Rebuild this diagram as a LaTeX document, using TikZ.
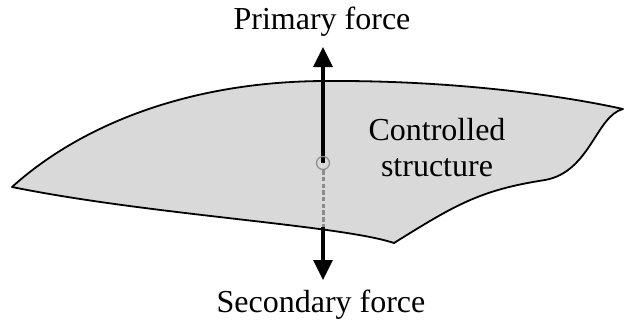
\documentclass[tikz,border=0pt]{standalone}
\usepackage{fontspec}
\setmainfont{Liberation Serif}
\usetikzlibrary{arrows.meta}
\definecolor{structfill}{HTML}{D9D9D9}
\definecolor{pingray}{HTML}{8C8C8C}

\begin{document}
\begin{tikzpicture}[x=1pt, y=-1pt, line join=round,
  font=\fontsize{32}{36}\selectfont, every node/.style={inner sep=0pt},
  force/.style={line width=3.2pt, -{Triangle[length=20pt,width=19pt]}}]
  \path[use as bounding box] (0,0) rectangle (624,327);
  % outline in picture pixels, y pointing down
  \filldraw[fill=structfill, draw=black, line width=1.8pt]
    (12,187) .. controls (75,130) and (180,82) .. (323,81)
    .. controls (450,80) and (560,95) .. (623,109)
    .. controls (596,116) and (590,172) .. (545,180)
    .. controls (480,190) and (455,205) .. (394,243)
    .. controls (340,225) and (150,215) .. (12,187) -- cycle;
  \node[align=center] (struct) at (437,148) {Controlled\\structure};
  \coordinate (uptip) at (323,47);
  \coordinate (edge) at (323,227);
  \coordinate (downtip) at (323,280);
  \draw[force] (323,163) -- (uptip);
  \node[circle, draw=pingray, line width=1.2pt, minimum size=13pt]
    (pin) at (323,163) {};
  \draw[pingray, line width=3pt, dash pattern=on 4.5pt off 2.2pt]
    (pin.south) -- (edge);
  \draw[force] (edge) -- (downtip);
  \node (primary) at (322,22) {Primary force};
  \node (secondary) at (321,305) {Secondary force};
\end{tikzpicture}
\end{document}
